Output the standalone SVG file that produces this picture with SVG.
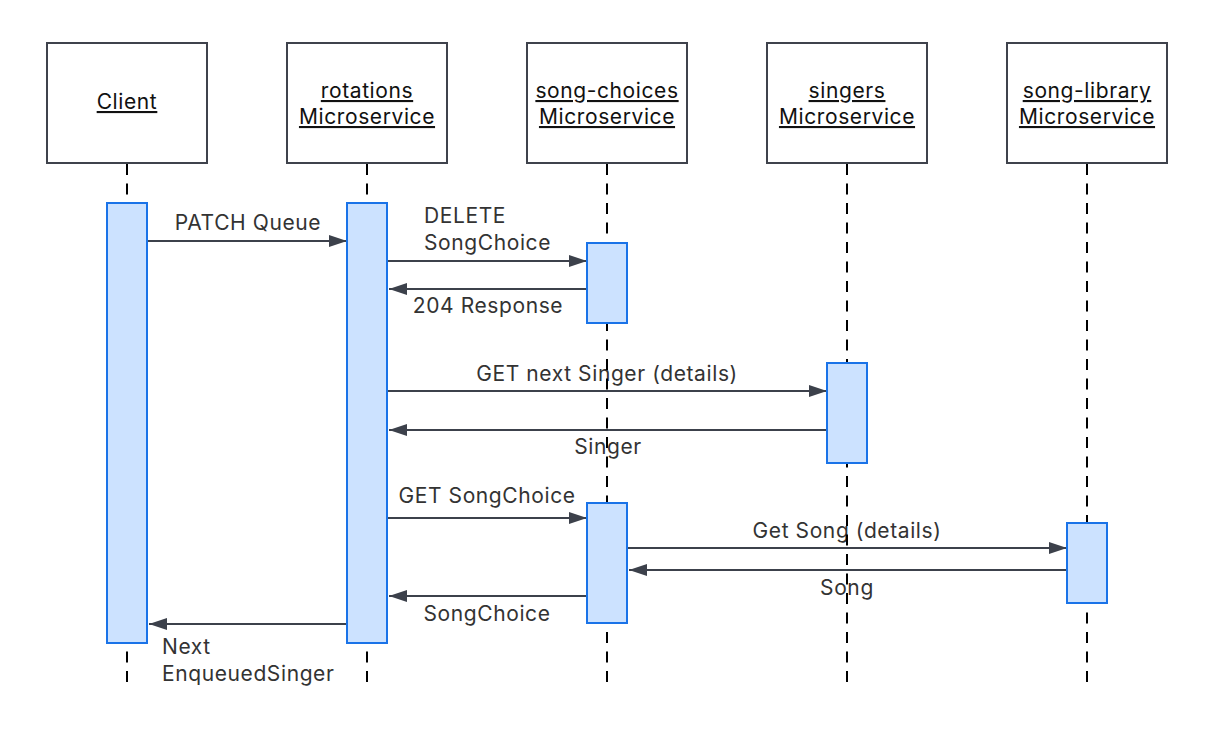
<svg xmlns="http://www.w3.org/2000/svg" width="1214" height="741" viewBox="0 0 1214 741">
<style>
.box{fill:#fff;stroke:#3f434c;stroke-width:2}
.ht{font-family:Inter,"Liberation Sans",sans-serif;font-size:21px;letter-spacing:0.6px;fill:#111;text-anchor:middle;text-decoration:underline}
.life{stroke:#000;stroke-width:2;stroke-dasharray:11 8.5;fill:none}
.act{fill:#cce2ff;stroke:#1a73e8;stroke-width:2}
.msg{stroke:#3c414b;stroke-width:2;fill:none;marker-end:url(#ah)}
.mt{font-family:Inter,"Liberation Sans",sans-serif;font-size:21px;letter-spacing:0.6px;fill:#333}
.c{text-anchor:middle}
</style>
<defs>
<marker id="ah" markerWidth="18" markerHeight="12" refX="18" refY="6" orient="auto" markerUnits="userSpaceOnUse">
<path d="M0,0 L18,6 L0,12 Z" fill="#3c414b"/>
</marker>
</defs>
<rect width="1214" height="741" fill="#fff"/>
<g id="participants">
<g id="client"><rect class="box" x="47" y="43" width="160" height="120"/><text class="ht" x="127" y="109">Client</text></g>
<g id="rotations"><rect class="box" x="287" y="43" width="160" height="120"/><text class="ht" x="367" y="98">rotations</text><text class="ht" x="367" y="124">Microservice</text></g>
<g id="song-choices"><rect class="box" x="527" y="43" width="160" height="120"/><text class="ht" x="607" y="98">song-choices</text><text class="ht" x="607" y="124">Microservice</text></g>
<g id="singers"><rect class="box" x="767" y="43" width="160" height="120"/><text class="ht" x="847" y="98">singers</text><text class="ht" x="847" y="124">Microservice</text></g>
<g id="song-library"><rect class="box" x="1007" y="43" width="160" height="120"/><text class="ht" x="1087" y="98">song-library</text><text class="ht" x="1087" y="124">Microservice</text></g>
</g>
<g id="connectors">
<line class="msg" x1="147" y1="241" x2="347" y2="241"/>
<text class="mt c" x="248" y="230">PATCH Queue</text>
<line class="msg" x1="387" y1="261" x2="587" y2="261"/>
<text class="mt" x="424" y="223">DELETE</text>
<text class="mt" x="424" y="250">SongChoice</text>
<line class="msg" x1="587" y1="289" x2="389" y2="289"/>
<text class="mt c" x="488" y="313">204 Response</text>
<line class="msg" x1="387" y1="391" x2="827" y2="391"/>
<text class="mt c" x="607" y="381">GET next Singer (details)</text>
<line class="msg" x1="827" y1="430" x2="389" y2="430"/>
<text class="mt c" x="608" y="454">Singer</text>
<line class="msg" x1="387" y1="518" x2="587" y2="518"/>
<text class="mt c" x="487" y="503">GET SongChoice</text>
<line class="msg" x1="627" y1="548" x2="1067" y2="548"/>
<text class="mt c" x="847" y="538">Get Song (details)</text>
<line class="msg" x1="1067" y1="570" x2="629" y2="570"/>
<text class="mt c" x="847" y="595">Song</text>
<line class="msg" x1="587" y1="596" x2="389" y2="596"/>
<text class="mt c" x="487" y="621">SongChoice</text>
<line class="msg" x1="347" y1="624" x2="149" y2="624"/>
<text class="mt" x="162" y="654">Next</text>
<text class="mt" x="162" y="681">EnqueuedSinger</text>
</g>
<g id="lifelines">
<line class="life" x1="127" y1="164" x2="127" y2="683"/>
<line class="life" x1="367" y1="164" x2="367" y2="683"/>
<line class="life" x1="607" y1="164" x2="607" y2="683"/>
<line class="life" x1="847" y1="164" x2="847" y2="683"/>
<line class="life" x1="1087" y1="164" x2="1087" y2="683"/>
</g>
<g id="activations">
<rect class="act" x="107" y="203" width="40" height="440"/>
<rect class="act" x="347" y="203" width="40" height="440"/>
<rect class="act" x="587" y="243" width="40" height="80"/>
<rect class="act" x="827" y="363" width="40" height="100"/>
<rect class="act" x="587" y="503" width="40" height="120"/>
<rect class="act" x="1067" y="523" width="40" height="80"/>
</g>
</svg>
